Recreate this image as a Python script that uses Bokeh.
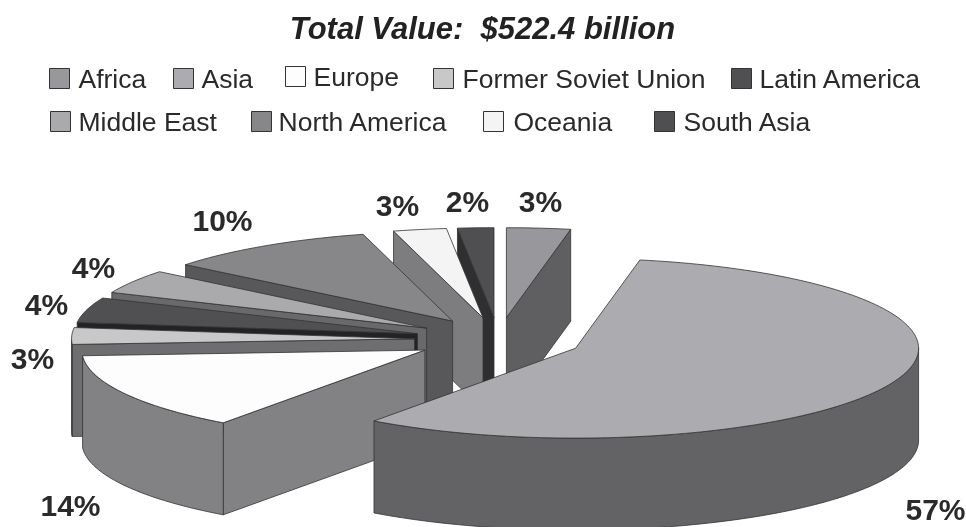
import math
from bokeh.plotting import figure
from bokeh.models import Range1d
from bokeh.core.properties import value
from bokeh.embed import file_html
from bokeh.resources import INLINE

regions = ["Africa", "Asia", "Europe", "Former Soviet Union", "Latin America",
           "Middle East", "North America", "Oceania", "South Asia"]
shares = [3, 57, 14, 3, 4.5, 4.3, 10, 2.5, 1.7]
top_colors = ["#98989c", "#acacb0", "#fdfdfd", "#c8c8c8", "#505052",
              "#aaaaad", "#87878a", "#f4f4f4", "#4f4f52"]
wall_colors = ["#5f5f62", "#636366", "#828285", "#6e6e70", "#232325",
               "#69696b", "#58585a", "#7d7d80", "#2f2f31"]
draw_order = ["Africa", "South Asia", "Oceania", "North America", "Middle East",
              "Latin America", "Former Soviet Union", "Europe", "Asia"]

title_text = "Total Value:\u00a0\u00a0$522.4 billion"
pct_labels = ["3%", "57%", "14%", "3%", "4%", "4%", "10%", "3%", "2%"]
pct_x = [540, 935, 70, 32, 46, 93, 222, 397, 467]
pct_y = [201, 509, 505, 358, 304, 267, 220, 205, 201]
legend_x = [49, 173, 285, 433, 731, 50, 251, 483, 654]
legend_y = [78, 78, 76, 78, 78, 121, 121, 121, 121]
legend_text_x = [78, 201, 313, 462, 759, 78, 278, 513, 683]

CX, CY = 498, 339
RADIUS, EXPLODE, TILT, DEPTH = 343, 84, 0.262, 92


def project(u, v):
    return CX + u, CY - v * TILT


p = figure(width=966, height=527, output_backend="svg", toolbar_location=None,
           x_range=Range1d(0, 966), y_range=Range1d(527, 0), min_border=0,
           outline_line_color=None, styles={"position": "fixed", "left": "0px", "top": "0px"})
p.axis.visible = False
p.grid.visible = False

total = sum(shares)
spans = {}
run = 0
for name, s in zip(regions, shares):
    spans[name] = (2 * math.pi * run / total, 2 * math.pi * (run + s) / total)
    run += s


def wall(points):
    """A wall under a run of top-face points: the run, then the same run dropped."""
    return ([q[0] for q in points] + [q[0] for q in reversed(points)],
            [q[1] for q in points] + [q[1] + DEPTH for q in reversed(points)])


for name in draw_order:
    i = regions.index(name)
    a0, a1 = spans[name]
    mid = (a0 + a1) / 2
    ox, oy = EXPLODE * math.sin(mid), EXPLODE * math.cos(mid)
    n = max(4, int((a1 - a0) * 40))
    rim = [project(ox + RADIUS * math.sin(a0 + (a1 - a0) * k / n),
                   oy + RADIUS * math.cos(a0 + (a1 - a0) * k / n)) for k in range(n + 1)]
    apex = project(ox, oy)
    xs, ys = [], []
    # only walls that face the viewer: going clockwise, those edges run leftwards
    if rim[0][0] < apex[0]:
        wx, wy = wall([apex, rim[0]])
        xs.append(wx)
        ys.append(wy)
    if apex[0] < rim[-1][0]:
        wx, wy = wall([rim[-1], apex])
        xs.append(wx)
        ys.append(wy)
    run_pts = []
    for k in range(n):
        if rim[k + 1][0] < rim[k][0]:
            if not run_pts:
                run_pts.append(rim[k])
            run_pts.append(rim[k + 1])
    if run_pts:
        wx, wy = wall(run_pts)
        xs.append(wx)
        ys.append(wy)
    p.patches(xs, ys, fill_color=wall_colors[i], line_color="#333335", line_width=0.8)
    outline = [apex] + rim
    p.patch([q[0] for q in outline], [q[1] for q in outline],
            fill_color=top_colors[i], line_color="#333335", line_width=0.8)

p.text(x=[482], y=[28], text=[title_text], text_font=value("Liberation Sans"),
       text_font_style="bold italic", text_font_size="31px", text_color="#222222",
       text_align="center", text_baseline="middle")
p.text(x=pct_x, y=pct_y, text=pct_labels, text_font=value("Liberation Sans"),
       text_font_style="bold", text_font_size="30px", text_color="#2a2a2a",
       text_align="center", text_baseline="middle")
p.scatter(x=[v + 10 for v in legend_x], y=legend_y, marker="square", size=20,
          fill_color=top_colors, line_color="#333335", line_width=1)
p.text(x=legend_text_x, y=legend_y, text=regions, text_font=value("Liberation Sans"),
       text_font_size="26.5px", text_color="#2a2a2a", text_align="left", text_baseline="middle")

open("out.html", "w").write(file_html(p, INLINE))
